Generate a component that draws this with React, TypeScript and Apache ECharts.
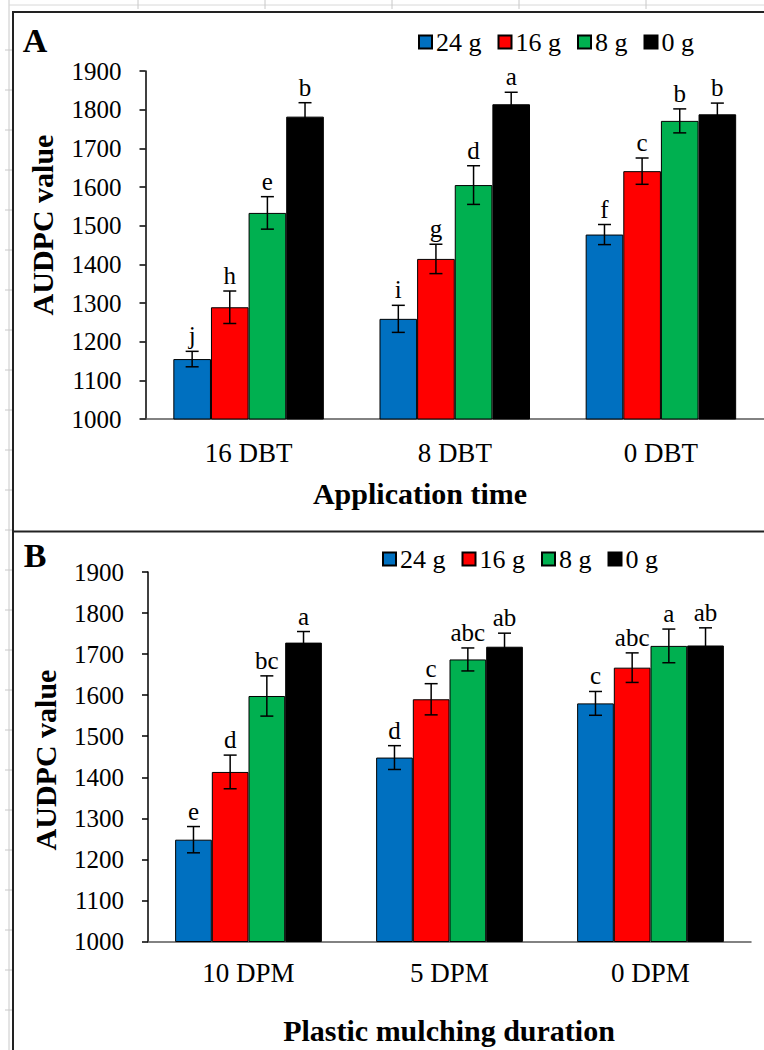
import React, { useEffect, useRef } from "react";
import * as echarts from "echarts";

const seriesNames = ["24 g", "16 g", "8 g", "0 g"];
const barColors = ["#0070C0", "#FF0000", "#00B050", "#000000"];

const categoriesA = ["16 DBT", "8 DBT", "0 DBT"];
const valuesA = [
  [1155, 1259, 1477],
  [1289, 1414, 1641],
  [1533, 1605, 1771],
  [1782, 1814, 1788],
];
const errorsA = [
  [20, 35, 26],
  [42, 38, 34],
  [42, 50, 31],
  [36, 31, 29],
];
const lettersA = [
  ["j", "i", "f"],
  ["h", "g", "c"],
  ["e", "d", "b"],
  ["b", "a", "b"],
];

const categoriesB = ["10 DPM", "5 DPM", "0 DPM"];
const valuesB = [
  [1248, 1448, 1580],
  [1413, 1590, 1667],
  [1598, 1687, 1720],
  [1728, 1718, 1721],
];
const errorsB = [
  [32, 29, 29],
  [41, 38, 36],
  [49, 28, 41],
  [27, 33, 43],
];
const lettersB = [
  ["e", "d", "c"],
  ["d", "c", "abc"],
  ["bc", "abc", "a"],
  ["a", "ab", "ab"],
];

const yMin = 1000;
const yMax = 1900;
const yStep = 100;

const FONT = "'Liberation Serif', 'Times New Roman', serif";
const GAP = 0.27;

function makeErrorSeries(gridIdx: number, k: number, vals: number[], errs: number[], letters: string[]) {
  return {
    type: "custom",
    xAxisIndex: gridIdx,
    yAxisIndex: gridIdx,
    z: 10,
    silent: true,
    data: vals.map((v, i) => [i, v, errs[i]]),
    encode: { x: 0, y: 1 },
    renderItem: (params: any, api: any) => {
      const ci = api.value(0);
      const v = api.value(1);
      const e = api.value(2);
      const band = api.size([1, 0])[0];
      const bw = (band * (1 - GAP)) / 4;
      const c = api.coord([ci, v]);
      const x = c[0] - 2 * bw + (k + 0.5) * bw;
      const top = api.coord([ci, v + e])[1];
      const bot = api.coord([ci, v - e])[1];
      const cap = 6.5;
      const st = { stroke: "#000", lineWidth: 1.5 };
      return {
        type: "group",
        children: [
          { type: "line", shape: { x1: x, y1: top, x2: x, y2: bot }, style: st },
          { type: "line", shape: { x1: x - cap, y1: top, x2: x + cap, y2: top }, style: st },
          { type: "line", shape: { x1: x - cap, y1: bot, x2: x + cap, y2: bot }, style: st },
          {
            type: "text",
            x: x,
            y: top - 3,
            style: {
              text: letters[params.dataIndex],
              textAlign: "center",
              textVerticalAlign: "bottom",
              font: `25px ${FONT}`,
              fill: "#000",
            },
          },
        ],
      };
    },
  };
}

export default function App() {
  const ref = useRef<HTMLDivElement>(null);
  useEffect(() => {
    if (!ref.current) return;
    const chart = echarts.init(ref.current, null, { renderer: "svg" });

    const barSeries: any[] = [];
    const errSeries: any[] = [];
    [valuesA, valuesB].forEach((vals, g) => {
      const errs = g === 0 ? errorsA : errorsB;
      const lets = g === 0 ? lettersA : lettersB;
      vals.forEach((arr, k) => {
        barSeries.push({
          type: "bar",
          name: seriesNames[k],
          xAxisIndex: g,
          yAxisIndex: g,
          data: arr,
          barGap: "0%",
          barCategoryGap: "27%",
          itemStyle: { color: barColors[k], borderColor: "#000", borderWidth: 1 },
        });
        errSeries.push(makeErrorSeries(g, k, arr, errs[k], lets[k]));
      });
    });

    const yAxisBase = (gi: number) => ({
      type: "value",
      gridIndex: gi,
      min: yMin,
      max: yMax,
      interval: yStep,
      axisLine: { show: true, lineStyle: { color: "#000", width: 1.5 } },
      axisTick: { show: true, length: 6, lineStyle: { color: "#000", width: 1.5 } },
      splitLine: { show: false },
      axisLabel: {
        color: "#000",
        fontFamily: FONT,
        fontSize: 25,
        margin: 24,
        formatter: (v: number) => String(v),
      },
    });
    const xAxisBase = (gi: number, cats: string[], margin: number) => ({
      type: "category",
      gridIndex: gi,
      data: cats,
      axisLine: { show: true, lineStyle: { color: "#595959", width: 1.5 } },
      axisTick: { show: false },
      axisLabel: { color: "#000", fontFamily: FONT, fontSize: 27, margin },
    });

    const legendBase = (left: number, top: number) => ({
      data: seriesNames,
      left,
      top,
      icon: "rect",
      itemWidth: 13,
      itemHeight: 13,
      itemGap: 16,
      textStyle: { color: "#000", fontFamily: FONT, fontSize: 26, padding: [0, 0, 0, -1] },
      selectedMode: false,
    });

    const faint: any[] = [];
    faint.push({ type: "line", shape: { x1: 9, y1: 0, x2: 9, y2: 1050 }, style: { stroke: "#c8c8c8", lineWidth: 1 } });
    faint.push({ type: "line", shape: { x1: 9, y1: 5, x2: 764, y2: 5 }, style: { stroke: "#d8d8d8", lineWidth: 1 } });
    [138, 265, 392, 519, 646].forEach((x) =>
      faint.push({ type: "line", shape: { x1: x, y1: 0, x2: x, y2: 9 }, style: { stroke: "#c8c8c8", lineWidth: 1 } })
    );
    for (let y = 50; y < 1050; y += 40) {
      faint.push({ type: "line", shape: { x1: 5, y1: y, x2: 12, y2: y }, style: { stroke: "#c8c8c8", lineWidth: 1 } });
    }

    const frame = [
      { type: "line", shape: { x1: 13, y1: 12, x2: 13, y2: 1050 }, style: { stroke: "#222", lineWidth: 2 } },
      { type: "line", shape: { x1: 12, y1: 12, x2: 764, y2: 12 }, style: { stroke: "#222", lineWidth: 2 } },
      { type: "line", shape: { x1: 12, y1: 531.5, x2: 764, y2: 531.5 }, style: { stroke: "#222", lineWidth: 2 } },
    ];

    const texts = [
      { type: "text", x: 35, y: 40, style: { text: "A", font: `bold 34px ${FONT}`, fill: "#000", textAlign: "center", textVerticalAlign: "middle" } },
      { type: "text", x: 35, y: 555, style: { text: "B", font: `bold 34px ${FONT}`, fill: "#000", textAlign: "center", textVerticalAlign: "middle" } },
      { type: "text", x: 42, y: 225, rotation: Math.PI / 2, style: { text: "AUDPC value", font: `bold 30px ${FONT}`, fill: "#000", textAlign: "center", textVerticalAlign: "middle" } },
      { type: "text", x: 45, y: 760, rotation: Math.PI / 2, style: { text: "AUDPC value", font: `bold 30px ${FONT}`, fill: "#000", textAlign: "center", textVerticalAlign: "middle" } },
      { type: "text", x: 420, y: 493, style: { text: "Application time", font: `bold 30px ${FONT}`, fill: "#000", textAlign: "center", textVerticalAlign: "middle" } },
      { type: "text", x: 449, y: 1030, style: { text: "Plastic mulching duration", font: `bold 30px ${FONT}`, fill: "#000", textAlign: "center", textVerticalAlign: "middle" } },
    ];

    chart.setOption({
      animation: false,
      backgroundColor: "#fff",
      legend: [legendBase(413, 24), legendBase(377, 541)],
      grid: [
        { left: 145.5, top: 71, width: 630, height: 348, containLabel: false },
        { left: 148, top: 572, width: 603, height: 369.5, containLabel: false },
      ],
      xAxis: [xAxisBase(0, categoriesA, 20), xAxisBase(1, categoriesB, 18)],
      yAxis: [yAxisBase(0), yAxisBase(1)],
      series: [...barSeries, ...errSeries],
      graphic: [...faint, ...frame, ...texts],
    });
    return () => chart.dispose();
  }, []);
  return (
    <div
      ref={ref}
      style={{ position: "absolute", left: 0, top: 0, width: 764, height: 1050, background: "#fff" }}
    />
  );
}
